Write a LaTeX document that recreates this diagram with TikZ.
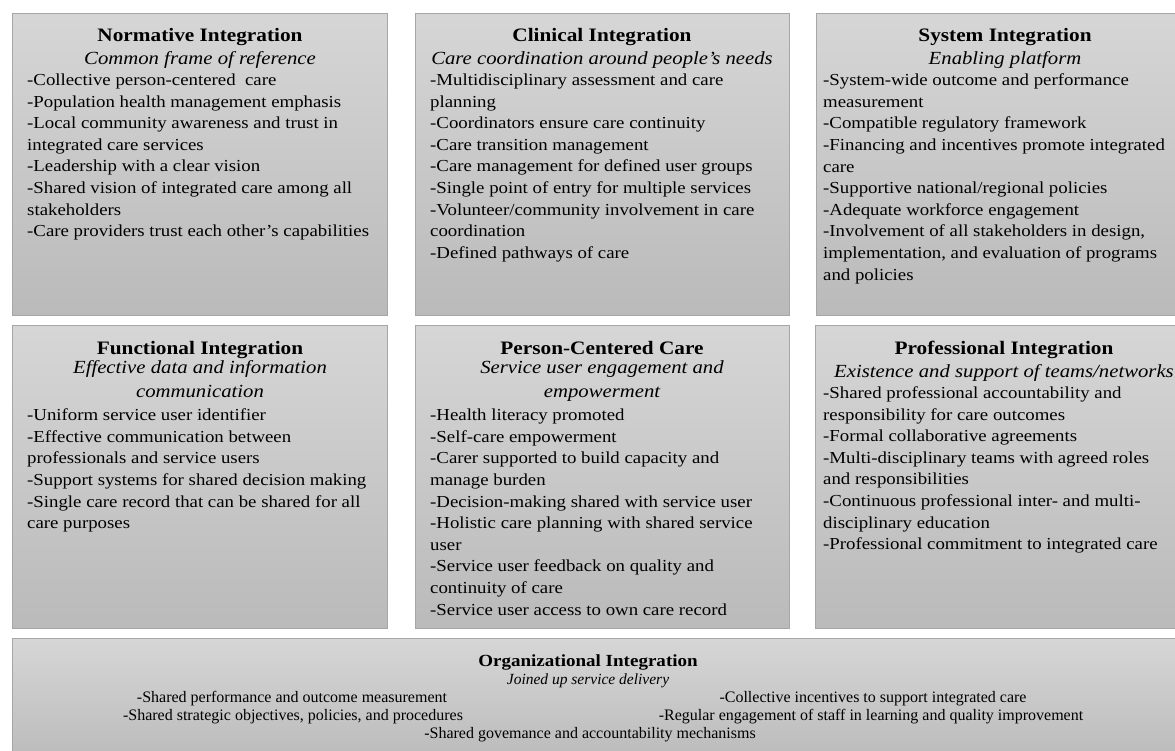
\documentclass[tikz,border=0pt]{standalone}
\usepackage{fontspec}
\setmainfont{Liberation Serif}[FakeStretch=1.12]
\newfontfamily\orgfont{Liberation Serif}
\definecolor{paneltop}{RGB}{214,214,214}
\definecolor{panelbottom}{RGB}{186,186,186}
\definecolor{panelline}{RGB}{166,166,166}
\begin{document}
\begin{tikzpicture}[x=1pt,y=-1pt,
  panel/.style={draw=panelline, line width=1pt, top color=paneltop,
    bottom color=panelbottom, anchor=north west, inner sep=0pt},
  ttl/.style={anchor=base, inner sep=0pt, font=\fontsize{19}{23}\selectfont\bfseries},
  % multi-line nodes hang from the top of a strut: top = first baseline - 0.7 baselineskip
  sub/.style={anchor=north, inner sep=0pt, align=center,
    font=\fontsize{18.5}{24}\selectfont\itshape, execute at begin node=\strut},
  body/.style={anchor=north west, inner sep=0pt, align=left,
    font=\fontsize{16.8}{21.6}\selectfont, execute at begin node=\strut},
  orgttl/.style={anchor=base, inner sep=0pt, font=\fontsize{17}{20}\selectfont\bfseries},
  orgsub/.style={anchor=base, inner sep=0pt, font=\orgfont\fontsize{15.5}{18}\selectfont\itshape},
  orgitem/.style={anchor=base, inner sep=0pt, font=\orgfont\fontsize{16}{18}\selectfont}]
\useasboundingbox (0,0) rectangle (1175,750);
\clip (0,0) rectangle (1175,750);

% ---- top row ----
\node[panel, minimum width=375pt, minimum height=302pt] (p1) at (12,13) {};
\node[panel, minimum width=374pt, minimum height=302pt] (p2) at (415,13) {};
\node[panel, minimum width=378pt, minimum height=302pt] (p3) at (816,13) {};

\node[ttl] (t1) at (200,41.7) {Normative Integration};
\node[sub] (s1) at (200,47.7) {Common frame of reference};
\node[body] (b1) at (27,73.7) {-Collective person-centered\ \ care\\
-Population health management emphasis\\
-Local community awareness and trust in\\
integrated care services\\
-Leadership with a clear vision\\
-Shared vision of integrated care among all\\
stakeholders\\
-Care providers trust each other’s capabilities};

\node[ttl] (t2) at (602,41.7) {Clinical Integration};
\node[sub] (s2) at (602,47.7) {Care coordination around people’s needs};
\node[body] (b2) at (430,73.7) {-Multidisciplinary assessment and care\\
planning\\
-Coordinators ensure care continuity\\
-Care transition management\\
-Care management for defined user groups\\
-Single point of entry for multiple services\\
-Volunteer/community involvement in care\\
coordination\\
-Defined pathways of care};

\node[ttl] (t3) at (1005,41.7) {System Integration};
\node[sub] (s3) at (1005,47.7) {Enabling platform};
\node[body] (b3) at (823,73.7) {-System-wide outcome and performance\\
measurement\\
-Compatible regulatory framework\\
-Financing and incentives promote integrated\\
care\\
-Supportive national/regional policies\\
-Adequate workforce engagement\\
-Involvement of all stakeholders in design,\\
implementation, and evaluation of programs\\
and policies};

% ---- middle row ----
\node[panel, minimum width=375pt, minimum height=303pt] (p4) at (12,325) {};
\node[panel, minimum width=374pt, minimum height=303pt] (p5) at (415,325) {};
\node[panel, minimum width=378pt, minimum height=303pt] (p6) at (815,325) {};

\node[ttl] (t4) at (200,354.5) {Functional Integration};
\node[sub] (s4) at (200,360.5) {Effective data and information\\communication};
\node[body] (b4) at (27,408.6) {-Uniform service user identifier\\
-Effective communication between\\
professionals and service users\\
-Support systems for shared decision making\\
-Single care record that can be shared for all\\
care purposes};

\node[ttl] (t5) at (602,354.5) {Person-Centered Care};
\node[sub] (s5) at (602,360.5) {Service user engagement and\\empowerment};
\node[body] (b5) at (430,408.9) {-Health literacy promoted\\
-Self-care empowerment\\
-Carer supported to build capacity and\\
manage burden\\
-Decision-making shared with service user\\
-Holistic care planning with shared service\\
user\\
-Service user feedback on quality and\\
continuity of care\\
-Service user access to own care record};

\node[ttl] (t6) at (1004,354.5) {Professional Integration};
\node[sub] (s6) at (1004,360.5) {Existence and support of teams/networks};
\node[body] (b6) at (823,386.4) {-Shared professional accountability and\\
responsibility for care outcomes\\
-Formal collaborative agreements\\
-Multi-disciplinary teams with agreed roles\\
and responsibilities\\
-Continuous professional inter- and multi-\\
disciplinary education\\
-Professional commitment to integrated care};

% ---- bottom band ----
\node[panel, minimum width=1180pt, minimum height=125pt] (p7) at (12,638) {};
\node[orgttl] (t7) at (588,666) {Organizational Integration};
\node[orgsub] (s7) at (588,684) {Joined up service delivery};
\node[orgitem] (o1) at (292,702) {-Shared performance and outcome measurement};
\node[orgitem] (o2) at (873,702) {-Collective incentives to support integrated care};
\node[orgitem] (o3) at (293,720) {-Shared strategic objectives, policies, and procedures};
\node[orgitem] (o4) at (871,720) {-Regular engagement of staff in learning and quality improvement};
\node[orgitem] (o5) at (590,738) {-Shared govemance and accountability mechanisms};
\end{tikzpicture}
\end{document}
